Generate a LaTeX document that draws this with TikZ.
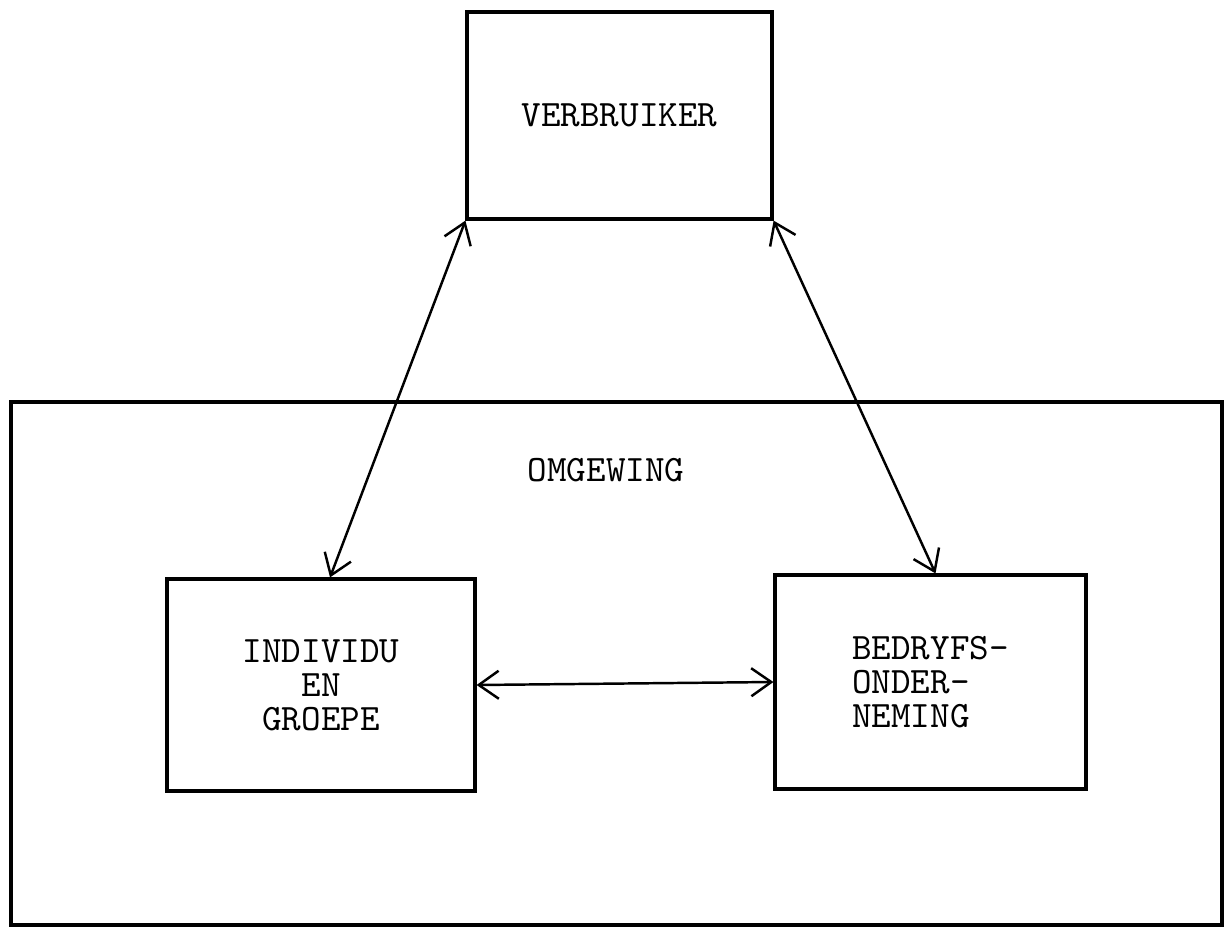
\documentclass[tikz,border=0pt]{standalone}
\usetikzlibrary{arrows.meta,positioning,calc}
\tikzset{
  blok/.style={draw=black,line width=0.9pt,inner sep=0pt,minimum width=#1,
               font=\ttfamily\fontsize{10.6}{9.7}\selectfont,align=center},
  blok/.default=3.1cm,
  link/.style={{Straight Barb[length=2mm,width=2.8mm]}-{Straight Barb[length=2mm,width=2.8mm]},line width=0.7pt},
  txt/.style={font=\ttfamily\fontsize{10.6}{9.7}\selectfont,align=center},
}

\begin{document}
\begin{tikzpicture}
  \useasboundingbox (0,0) rectangle (12.28,9.29);
  % omgewing
  \node[blok=12.11cm,minimum height=5.23cm] (omg) at (6.165,2.655) {};
  \node[txt] (omglbl) at (6.06,4.59) {OMGEWING};
  % boxes
  \node[blok=3.05cm,minimum height=2.07cm] (verb) at (6.195,8.135) {VERBRUIKER};
  \node[blok=3.08cm,minimum height=2.12cm] (ind) at (3.21,2.44) {INDIVIDU\\EN\\GROEPE};
  \node[blok=3.11cm,minimum height=2.14cm,align=left] (bed) at (9.305,2.47) {BEDRYFS-\\ONDER-\\NEMING};
  % links
  \draw[link] (verb.south west) -- ($(ind.north)+(0.09,0)$);
  \draw[link] (verb.south east) -- ($(bed.north)+(0.05,0)$);
  \draw[link] (ind.east) -- (bed.west);
\end{tikzpicture}
\end{document}
